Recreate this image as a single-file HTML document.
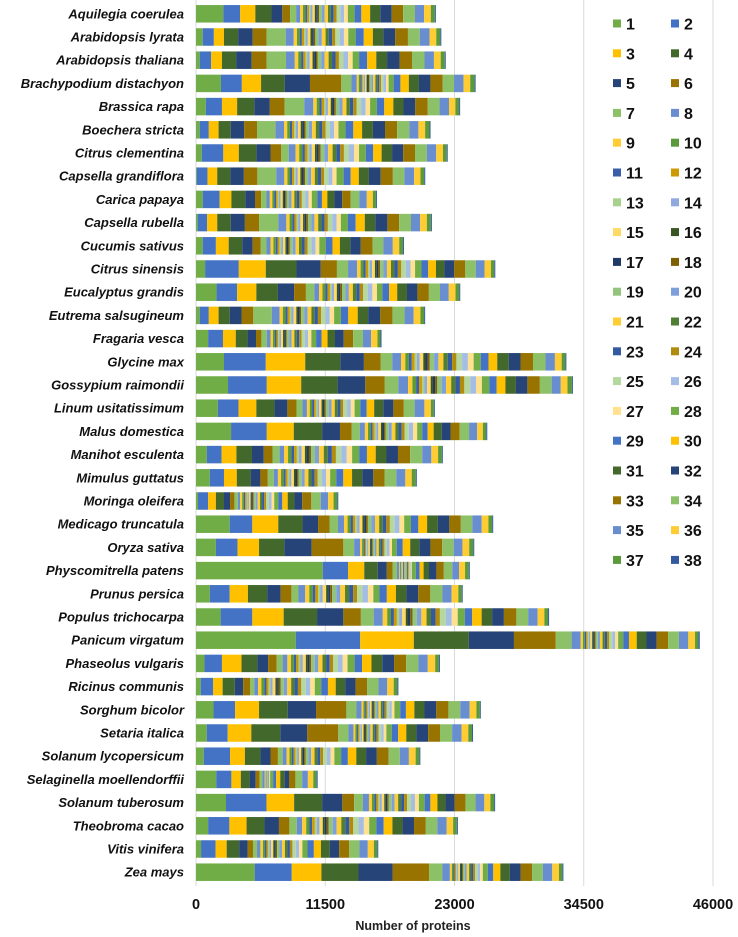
<!DOCTYPE html>
<html><head><meta charset="utf-8">
<style>
html,body{margin:0;padding:0;background:#fff;}
svg{display:block;font-family:"Liberation Sans",Arial,sans-serif;}
</style></head>
<body>
<svg id="chart" width="738" height="937" viewBox="0 0 738 937" xmlns="http://www.w3.org/2000/svg">
<g id="grid"></g>
<g id="bars"></g>
<g id="labels"></g>
<g id="xticks"></g>
<text x="413" y="930" text-anchor="middle" font-size="12.5" font-weight="bold" fill="#222">Number of proteins</text>
<g id="legend"></g>
</svg>
<script>
const species = ["Aquilegia coerulea","Arabidopsis lyrata","Arabidopsis thaliana","Brachypodium distachyon","Brassica rapa","Boechera stricta","Citrus clementina","Capsella grandiflora","Carica papaya","Capsella rubella","Cucumis sativus","Citrus sinensis","Eucalyptus grandis","Eutrema salsugineum","Fragaria vesca","Glycine max","Gossypium raimondii","Linum usitatissimum","Malus domestica","Manihot esculenta","Mimulus guttatus","Moringa oleifera","Medicago truncatula","Oryza sativa","Physcomitrella patens","Prunus persica","Populus trichocarpa","Panicum virgatum","Phaseolus vulgaris","Ricinus communis","Sorghum bicolor","Setaria italica","Solanum lycopersicum","Selaginella moellendorffii","Solanum tuberosum","Theobroma cacao","Vitis vinifera","Zea mays"];
const tickValues = [0, 11500, 23000, 34500, 46000];
const seriesNames = ["1","2","3","4","5","6","7","8","9","10","11","12","13","14","15","16","17","18","19","20","21","22","23","24","25","26","27","28","29","30","31","32","33","34","35","36","37","38"];
const seriesColors = ["#70AD47","#4472C4","#FFC000","#43682B","#264478","#997300","#8CC168","#698ED0","#FFCD33","#5B9A3A","#3A5FA8","#CC9A00","#A9D18E","#8FAADC","#FFD966","#375623","#1F3864","#7F6000","#93C47D","#7DA0DA","#FFCD33","#507E32","#335AA1","#B08B0E","#B5D7A0","#A4BDE4","#FFE18F","#70AD47","#4472C4","#FFC000","#43682B","#264478","#997300","#8CC168","#698ED0","#FFCD33","#5B9A3A","#335AA1"];

const aquilegia=[2430,1500,1350,1440,960,690,540,360,252,210,168,168,126,168,210,126,126,126,252,252,294,252,252,252,336,336,336,600,600,780,900,1020,1020,1050,810,600,360,90];
const lyrata=[600,990,900,1260,1290,1230,1710,720,288,240,192,192,144,192,240,144,144,144,288,288,336,288,288,288,384,384,384,660,720,810,930,1050,1140,1050,870,600,360,90];
const thaliana=[330,1020,960,1260,1380,1320,1740,780,306,255,204,204,153,204,255,153,153,153,306,306,357,306,306,306,408,408,408,570,720,810,960,1110,1110,1110,840,600,360,90];
const brachypodium=[2220,1860,1710,2100,2250,2790,900,480,168,140,112,112,84,112,140,84,84,84,168,168,196,168,168,168,224,224,224,450,600,750,900,1020,1080,1020,840,600,390,90];
const brassica=[870,1440,1350,1530,1380,1320,1740,810,300,250,200,200,150,200,250,150,150,150,300,300,350,300,300,300,400,400,400,600,660,810,900,1050,1110,1050,840,570,330,90];
const boechera=[330,810,870,1080,1200,1140,1650,750,288,240,192,192,144,192,240,144,144,144,288,288,336,288,288,288,384,384,384,630,690,780,960,1080,1080,1080,810,600,390,90];
const clementina=[510,1920,1380,1560,1260,960,660,600,336,280,224,224,168,224,280,168,168,168,336,336,392,336,336,336,448,448,448,600,660,750,930,990,1050,1050,840,600,330,90];
const grandiflora=[60,960,870,1170,1200,1200,1680,720,276,230,184,184,138,184,230,138,138,138,276,276,322,276,276,276,368,368,368,630,630,720,900,1050,1080,1020,870,570,330,90];
const carica=[600,1500,1050,1230,870,540,480,300,222,185,148,148,111,148,185,111,111,111,222,222,259,222,222,222,296,296,296,480,420,480,630,690,750,780,660,540,270,90];
const rubella=[150,840,900,1200,1260,1260,1710,720,288,240,192,192,144,192,240,144,144,144,288,288,336,288,288,288,384,384,384,630,690,810,930,1080,1050,1050,810,600,360,90];
const cucumis=[600,1170,1140,1200,930,720,510,360,258,215,172,172,129,172,215,129,129,129,258,258,301,258,258,258,344,344,344,570,600,660,930,930,1050,960,840,570,330,90];
const sinensis=[810,3000,2400,2730,2160,1440,990,810,306,255,204,204,153,204,255,153,153,153,306,306,357,306,306,306,408,408,408,570,600,690,750,870,990,930,780,570,300,90];
const eucalyptus=[1830,1830,1710,1920,1440,1050,750,420,306,255,204,204,153,204,255,153,153,153,306,306,357,306,306,306,408,408,408,480,600,720,870,930,1020,990,780,600,330,90];
const eutrema=[330,810,870,990,1050,1050,1650,690,288,240,192,192,144,192,240,144,144,144,288,288,336,288,288,288,384,384,384,600,660,840,930,1080,1080,1080,810,600,330,90];
const fragaria=[1080,1320,1140,1050,750,480,480,330,216,180,144,144,108,144,180,108,108,108,216,216,252,216,216,216,288,288,288,420,480,540,660,780,840,870,720,570,270,90];
const glycine=[2490,3720,3510,3120,2100,1500,1020,780,384,320,256,256,192,256,320,192,192,192,384,384,448,384,384,384,512,512,512,630,690,780,1020,1050,1110,1110,840,600,330,90];
const gossypium=[2850,3450,3060,3240,2460,1740,1200,870,390,325,260,260,195,260,325,195,195,195,390,390,455,390,390,390,520,520,520,660,660,780,930,1020,1110,1050,810,600,390,90];
const linum=[1950,1830,1590,1620,1140,810,540,390,252,210,168,168,126,168,210,126,126,126,252,252,294,252,252,252,336,336,336,510,570,660,810,900,930,960,870,570,270,90];
const malus=[3120,3180,2400,2520,1590,1050,720,450,276,230,184,184,138,184,230,138,138,138,276,276,322,276,276,276,368,368,368,450,480,540,720,780,810,840,720,510,300,90];
const manihot=[960,1320,1320,1380,1050,780,630,390,360,300,240,240,180,240,300,180,180,180,360,360,420,360,360,360,480,480,480,630,690,780,960,1020,1080,1080,810,600,330,90];
const mimulus=[1230,1260,1140,1230,870,660,540,360,276,230,184,184,138,184,230,138,138,138,276,276,322,276,276,276,368,368,368,540,630,780,900,990,1020,1020,810,570,360,90];
const moringa=[180,900,690,720,540,390,300,210,180,150,120,120,90,120,150,90,90,90,180,180,210,180,180,180,240,240,240,360,360,480,600,690,810,840,660,480,330,90];
const medicago=[3000,2010,2310,2160,1380,1020,750,540,318,265,212,212,159,212,265,159,159,159,318,318,371,318,318,318,424,424,424,600,660,780,960,1020,1020,1020,840,600,330,90];
const oryza=[1770,1920,1920,2250,2430,2820,960,540,168,140,112,112,84,112,140,84,84,84,168,168,196,168,168,168,224,224,224,420,540,660,810,990,1050,1020,780,600,360,90];
const physcomitrella=[11280,2250,1440,1200,810,510,390,210,66,55,44,44,33,44,55,33,33,33,66,66,77,66,66,66,88,88,88,360,330,360,480,660,660,750,600,540,330,90];
const prunus=[1230,1770,1620,1710,1200,960,630,600,360,300,240,240,180,240,300,180,180,180,360,360,420,360,360,360,480,480,480,540,660,810,930,1050,1080,1080,810,600,300,90];
const populus=[2190,2820,2790,2970,2340,1560,1140,810,396,330,264,264,198,264,330,198,198,198,396,396,462,396,396,396,528,528,528,630,660,840,930,1050,1110,1050,840,600,330,90];
const panicum=[8880,5730,4770,4890,4020,3720,1410,810,198,165,132,132,99,132,165,99,99,99,198,198,231,198,198,198,264,264,264,450,510,690,870,900,1020,960,840,600,300,120];
const phaseolus=[750,1560,1740,1410,960,750,540,420,318,265,212,212,159,212,265,159,159,159,318,318,371,318,318,318,424,424,424,630,660,840,960,1050,1080,1080,840,660,330,90];
const ricinus=[420,1110,840,1080,750,630,360,330,300,250,200,200,150,200,250,150,150,150,300,300,350,300,300,300,400,400,400,570,600,690,840,930,1020,1020,780,570,330,90];
const sorghum=[1560,1920,2130,2550,2520,2700,900,450,174,145,116,116,87,116,145,87,87,87,174,174,203,174,174,174,232,232,232,510,510,750,900,1050,1080,1050,840,600,300,90];
const setaria=[960,1860,2100,2580,2400,2760,900,450,174,145,116,116,87,116,145,87,87,87,174,174,203,174,174,174,232,232,232,480,570,720,900,1050,1050,1080,840,600,330,90];
const lycopersicum=[690,2340,1320,1380,900,660,420,360,252,210,168,168,126,168,210,126,126,126,252,252,294,252,252,252,336,336,336,600,600,750,870,960,1050,990,810,600,330,90];
const selaginella=[1800,1350,840,780,540,360,240,180,30,25,20,20,15,20,25,15,15,15,30,30,35,30,30,30,40,40,40,270,270,360,390,390,570,600,510,480,300,90];
const tuberosum=[2670,3600,2460,2490,1800,1050,780,540,264,220,176,176,132,176,220,132,132,132,264,264,308,264,264,264,352,352,352,510,510,630,720,810,960,900,780,540,330,90];
const theobroma=[1080,1890,1530,1590,1290,930,660,480,354,295,236,236,177,236,295,177,177,177,354,354,413,354,354,354,472,472,472,630,660,780,900,1020,1050,1020,840,570,330,90];
const vitis=[450,1290,990,1110,750,480,360,300,222,185,148,148,111,148,185,111,111,111,222,222,259,222,222,222,296,296,296,450,570,630,780,840,900,900,750,540,300,90];
const zea=[5220,3300,2640,3300,3030,3240,1200,660,174,145,116,116,87,116,145,87,87,87,174,174,203,174,174,174,232,232,232,450,480,630,840,960,1020,960,840,600,300,90];

const rows=[aquilegia,lyrata,thaliana,brachypodium,brassica,boechera,clementina,grandiflora,carica,rubella,cucumis,sinensis,eucalyptus,eutrema,fragaria,glycine,gossypium,linum,malus,manihot,mimulus,moringa,medicago,oryza,physcomitrella,prunus,populus,panicum,phaseolus,ricinus,sorghum,setaria,lycopersicum,selaginella,tuberosum,theobroma,vitis,zea];

const NS="http://www.w3.org/2000/svg";
const X0=196, X1=713, XMAX=46000;
const xScale = v => X0 + v/XMAX*(X1-X0);
const ROW0=13.8, ROWSTEP=23.2, BARH=17.5;
const yScale = i => ROW0 + i*ROWSTEP;
function mk(tag, attrs){const e=document.createElementNS(NS,tag);for(const k in attrs)e.setAttribute(k,attrs[k]);return e;}

const grid=document.getElementById('grid');
tickValues.forEach(t=>{
  const l=mk('line',{x1:xScale(t),x2:xScale(t),y1:0,y2:886,stroke:'#d9d9d9','stroke-width':1});
  
  
  grid.appendChild(l);
});

const xt=document.getElementById('xticks');
tickValues.forEach(t=>{
  const tx=mk('text',{x:xScale(t),y:909,'text-anchor':'middle','font-size':14.5,'font-weight':'bold',fill:'#111'});
  tx.textContent=String(t);
  
  
  xt.appendChild(tx);
});

const bars=document.getElementById('bars'), labels=document.getElementById('labels');
rows.forEach((vals,i)=>{
  const cy=yScale(i);
  let acc=0;
  const g=mk('g',{});
  
  
  vals.forEach((v,k)=>{
    const r=mk('rect',{x:xScale(acc),y:cy-BARH/2,width:Math.max(0,xScale(acc+v)-xScale(acc)),height:BARH,fill:seriesColors[k]});
    
    
    g.appendChild(r);
    acc+=v;
  });
  bars.appendChild(g);
  const t=mk('text',{x:184,y:cy+4.5,'text-anchor':'end','font-size':13,'font-weight':'bold','font-style':'italic',fill:'#111'});
  t.textContent=species[i];
  
  
  labels.appendChild(t);
});

const leg=document.getElementById('legend');
leg.appendChild(mk('rect',{x:600,y:0,width:112,height:575,fill:'#fff'}));
seriesNames.forEach((n,k)=>{
  const col=k%2, row=Math.floor(k/2);
  const y=23.5+row*29.8;
  const mx=col===0?613:671;
  const g=mk('g',{});
  
  
  g.appendChild(mk('rect',{x:mx,y:y-4,width:8,height:8,fill:seriesColors[k]}));
  const t=mk('text',{x:mx+13,y:y+6,'font-size':16,'font-weight':'bold',fill:'#111'});
  t.textContent=n;
  g.appendChild(t);
  leg.appendChild(g);
});
</script>
</body></html>
